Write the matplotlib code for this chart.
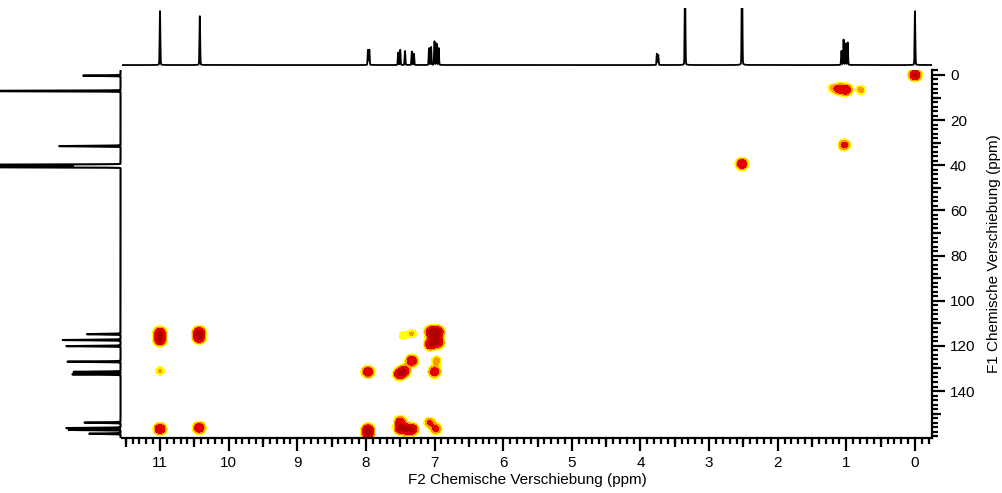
import numpy as np
import matplotlib
matplotlib.use("Agg")
import matplotlib.pyplot as plt

plt.rcParams['font.family'] = ['Liberation Sans', 'DejaVu Sans']

# 1H projection (top): peak positions (ppm) and relative heights
h1_ppm = [11.00, 10.42, 7.97, 7.95, 7.53, 7.50, 7.43, 7.33, 7.30,
          7.08, 7.05, 7.00, 6.97, 6.94, 3.76, 3.74, 3.35, 2.52,
          1.07, 1.04, 1.01, 0.98, 0.00]
h1_int = [0.96, 0.87, 0.27, 0.27, 0.22, 0.27, 0.25, 0.24, 0.20,
          0.30, 0.32, 0.42, 0.38, 0.30, 0.20, 0.18, 1.50, 2.00,
          0.25, 0.45, 0.38, 0.40, 0.96]

# 13C projection (left)
c13_ppm = [0.3, 7.1, 31.5, 39.8, 40.3, 40.8, 114.8, 117.4, 120.1, 127.0,
           131.5, 132.6, 154.0, 156.4, 157.2, 158.9]
c13_int = [0.31, 1.5, 0.51, 1.5, 2.0, 1.5, 0.28, 0.48, 0.45, 0.44,
           0.39, 0.40, 0.30, 0.45, 0.43, 0.26]

# cross peaks: F2 (1H), F1 (13C), intensity
cp_f2 = [11.00, 11.00, 11.00, 11.00, 10.43, 10.43, 10.43,
         7.97, 7.97, 7.97, 7.46, 7.33, 7.33, 7.51, 7.44,
         7.05, 6.95, 7.00, 6.95, 7.06, 6.97, 7.00,
         7.50, 7.50, 7.40, 7.32, 7.07, 6.98,
         1.20, 1.10, 1.00, 0.79, 1.03, 2.52, 0.00]
cp_f1 = [114.3, 117.4, 131.1, 156.8, 114.0, 116.3, 156.3,
         131.5, 157.0, 159.0, 115.3, 114.6, 126.6, 132.5, 131.0,
         113.8, 113.8, 116.0, 118.5, 119.3, 126.6, 131.5,
         153.6, 156.6, 157.0, 157.0, 154.0, 156.8,
         5.8, 6.3, 6.6, 6.6, 31.0, 39.4, 0.0]
cp_amp = [0.85, 0.85, 0.18, 0.75, 0.8, 0.8, 0.7,
          0.7, 0.72, 0.65, 0.15, 0.18, 0.7, 0.75, 0.65,
          0.85, 0.85, 0.8, 0.75, 0.75, 0.25, 0.6,
          0.55, 0.75, 0.65, 0.65, 0.35, 0.4,
          0.18, 0.5, 0.62, 0.22, 0.45, 0.7, 0.85]

xlim = (11.554, -0.248)
ylim = (160.8, -2.2)

fig = plt.figure(figsize=(10.03, 4.93), dpi=100)
W, H = 1003, 493
ax = fig.add_axes([122 / W, (H - 438) / H, 810 / W, 368 / H])
ax_top = fig.add_axes([122 / W, (H - 70) / H, 810 / W, 62 / H])
ax_left = fig.add_axes([0, (H - 438) / H, 122 / W, 368 / H])

# 2D contour map
gx = np.arange(-0.3, 11.6, 0.004)
gy = np.arange(-3, 162, 0.15)
Z = np.zeros((gy.size, gx.size))
for f2, f1, a in zip(cp_f2, cp_f1, cp_amp):
    ex = np.exp(-0.5 * ((gx - f2) / 0.05) ** 2)
    ey = np.exp(-0.5 * ((gy - f1) / 1.45) ** 2)
    Z += a * np.outer(ey, ex)
levels = [0.08, 0.16, 0.3, 0.72, 10]
colors = ['#FFFF00', '#FF9A00', '#E00000', '#B00000']
ax.contourf(gx, gy, Z, levels=levels, colors=colors)

ax.set_xlim(*xlim)
ax.set_ylim(*ylim)
ax.spines['top'].set_visible(False)
ax.spines['left'].set_visible(False)
ax.spines['bottom'].set_linewidth(1.6)
ax.spines['right'].set_linewidth(1.6)
ax.yaxis.tick_right()
ax.yaxis.set_label_position('right')
ax.set_xticks(np.arange(0, 12, 1))
ax.set_xticks(np.arange(-0.2, 11.6, 0.1), minor=True)
ax.set_yticks(np.arange(0, 160, 20))
ax.set_yticks(np.arange(-2, 161, 2), minor=True)
ax.tick_params(which='major', length=9, width=1.6, labelsize=11, pad=4)
ax.tick_params(which='minor', length=4, width=1.6)
ax.set_xlabel('F2 Chemische Verschiebung (ppm)', fontsize=11, labelpad=2)
ax.set_ylabel('F1 Chemische Verschiebung (ppm)', fontsize=11, labelpad=8)

# half-step ticks
sx = ax.secondary_xaxis('bottom')
sx.set_xticks(np.arange(0.5, 11.6, 1.0))
sx.set_xticklabels([])
sx.tick_params(length=6.5, width=1.6)
sx.spines['bottom'].set_visible(False)
sy = ax.secondary_yaxis('right')
sy.set_yticks(np.arange(10, 160, 20))
sy.set_yticklabels([])
sy.tick_params(length=6.5, width=1.6)
sy.spines['right'].set_visible(False)

# top 1H projection
px = np.linspace(-0.248, 11.554, 14000)
spec = np.zeros_like(px)
for p, h in zip(h1_ppm, h1_int):
    spec += h * np.exp(-0.5 * ((px - p) / 0.005) ** 2)
    spec += 0.02 * h / (1 + ((px - p) / 0.02) ** 2)
ax_top.plot(px, spec, color='black', lw=1.3)
ax_top.set_xlim(*xlim)
ax_top.set_ylim(-0.09, 1.036)
ax_top.axis('off')

# left 13C projection
py = np.linspace(-2.2, 160.8, 9000)
cspec = np.zeros_like(py)
for p, h in zip(c13_ppm, c13_int):
    cspec += h * np.exp(-0.5 * ((py - p) / 0.12) ** 2)
ax_left.plot(cspec, py, color='black', lw=1.5)
ax_left.set_xlim(1.0, -0.012)
ax_left.set_ylim(*ylim)
ax_left.axis('off')

fig.savefig('out.png', dpi=100)
